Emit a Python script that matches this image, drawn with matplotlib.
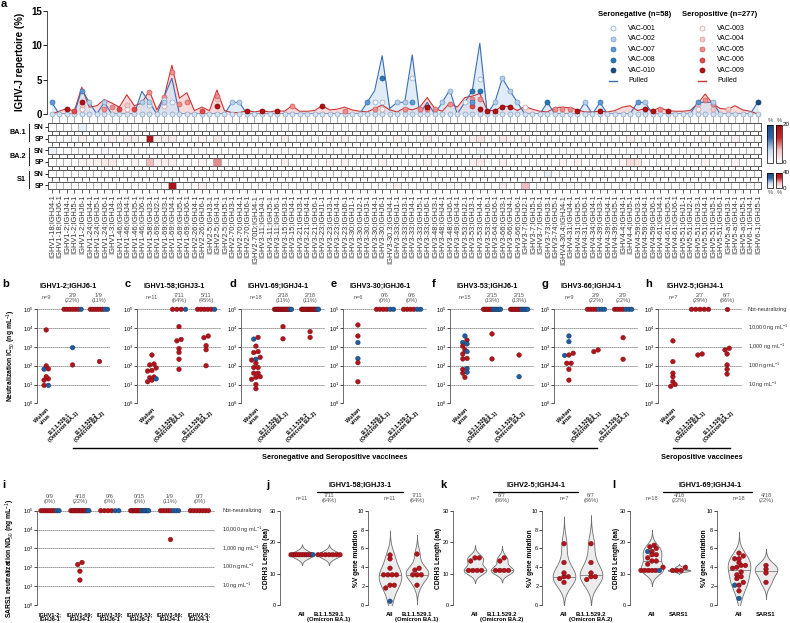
import numpy as np
import matplotlib
matplotlib.use("Agg")
import matplotlib.pyplot as plt
from matplotlib.colors import LinearSegmentedColormap, Normalize
from matplotlib.cm import ScalarMappable
from matplotlib.ticker import NullLocator

plt.rcParams['font.family'] = ['Liberation Sans', 'DejaVu Sans']
plt.rcParams['mathtext.fontset'] = 'custom'
plt.rcParams['mathtext.rm'] = 'Liberation Sans'
plt.rcParams['mathtext.bf'] = 'Liberation Sans:bold'
plt.rcParams['mathtext.it'] = 'Liberation Sans:italic'
plt.rcParams['axes.linewidth'] = 0.6

nan = np.nan

# ---------------- panel a data ----------------
V_J = [
 "IGHV1-18;IGHJ4-1","IGHV1-18;IGHJ6-1","IGHV1-2;IGHJ4-1","IGHV1-2;IGHJ5-1","IGHV1-2;IGHJ6-1",
 "IGHV1-24;IGHJ4-1","IGHV1-24;IGHJ5-1","IGHV1-24;IGHJ6-1","IGHV1-3;IGHJ4-1","IGHV1-46;IGHJ3-1",
 "IGHV1-46;IGHJ4-1","IGHV1-46;IGHJ5-1","IGHV1-46;IGHJ6-1","IGHV1-58;IGHJ3-1","IGHV1-69;IGHJ2-1",
 "IGHV1-69;IGHJ3-1","IGHV1-69;IGHJ4-1","IGHV1-69;IGHJ5-1","IGHV1-69;IGHJ6-1","IGHV2-26;IGHJ4-1",
 "IGHV2-26;IGHJ6-1","IGHV2-5;IGHJ3-1","IGHV2-5;IGHJ4-1","IGHV2-5;IGHJ5-1","IGHV2-70;IGHJ3-1",
 "IGHV2-70;IGHJ4-1","IGHV2-70;IGHJ6-1","IGHV2-70D;IGHJ4-1","IGHV3-11;IGHJ4-1","IGHV3-11;IGHJ5-1",
 "IGHV3-11;IGHJ6-1","IGHV3-15;IGHJ3-1","IGHV3-15;IGHJ4-1","IGHV3-21;IGHJ3-1","IGHV3-21;IGHJ4-1",
 "IGHV3-21;IGHJ6-1","IGHV3-23;IGHJ1-1","IGHV3-23;IGHJ3-1","IGHV3-23;IGHJ4-1","IGHV3-23;IGHJ6-1",
 "IGHV3-30;IGHJ1-1","IGHV3-30;IGHJ2-1","IGHV3-30;IGHJ3-1","IGHV3-30;IGHJ4-1","IGHV3-30;IGHJ6-1",
 "IGHV3-30.3;IGHJ4-1","IGHV3-33;IGHJ1-1","IGHV3-33;IGHJ3-1","IGHV3-33;IGHJ4-1","IGHV3-33;IGHJ5-1",
 "IGHV3-33;IGHJ6-1","IGHV3-48;IGHJ3-1","IGHV3-48;IGHJ4-1","IGHV3-48;IGHJ6-1","IGHV3-49;IGHJ4-1",
 "IGHV3-53;IGHJ2-1","IGHV3-53;IGHJ3-1","IGHV3-53;IGHJ4-1","IGHV3-53;IGHJ6-1","IGHV3-64;IGHJ6-1",
 "IGHV3-66;IGHJ3-1","IGHV3-66;IGHJ4-1","IGHV3-66;IGHJ6-1","IGHV3-7;IGHJ2-1","IGHV3-7;IGHJ5-1",
 "IGHV3-7;IGHJ6-1","IGHV3-73;IGHJ3-1","IGHV3-74;IGHJ5-1","IGHV4-30.4;IGHJ4-1","IGHV4-31;IGHJ4-1",
 "IGHV4-31;IGHJ5-1","IGHV4-31;IGHJ6-1","IGHV4-34;IGHJ4-1","IGHV4-39;IGHJ3-1","IGHV4-39;IGHJ4-1",
 "IGHV4-39;IGHJ5-1","IGHV4-4;IGHJ4-1","IGHV4-4;IGHJ5-1","IGHV4-59;IGHJ3-1","IGHV4-59;IGHJ4-1",
 "IGHV4-59;IGHJ6-1","IGHV4-61;IGHJ4-1","IGHV4-61;IGHJ5-1","IGHV4-61;IGHJ6-1","IGHV5-51;IGHJ1-1",
 "IGHV5-51;IGHJ2-1","IGHV5-51;IGHJ3-1","IGHV5-51;IGHJ4-1","IGHV5-51;IGHJ5-1","IGHV5-51;IGHJ6-1",
 "IGHV5-a;IGHJ3-1","IGHV5-a;IGHJ4-1","IGHV5-a;IGHJ5-1","IGHV6-1;IGHJ4-1","IGHV6-1;IGHJ5-1"]

PULLED_SN = [1.7,0,0,0,3.6,1.7,0,1.7,0,0,
             0,0,3.3,1.7,0,2.6,5.2,0,0,0,
             0,0,0,0,1.7,1.7,0,0,0,0,
             0,0,0,0,0,0,0,0,0,0,
             0,0,1.7,3.4,8.5,0.8,1.7,1.7,8.6,0,
             1.7,0,1.7,3.5,0,1.7,3.4,10.3,0,1.7,
             5.2,3.4,1.7,0,0,0,1.7,0,0,0,
             0,1.7,0,1.7,0,0,0,0,1.7,1.7,
             0,0,0,0,0,0,1.7,1.7,1.7,0,
             0,0,0,0,1.7]
PULLED_SP = [0,0.4,0.8,0.4,3.9,1.0,1.2,2.1,1.6,1.0,
             2.8,1.2,1.6,3.4,0.6,2.6,7.1,2.3,3.1,0.5,
             1.0,0.5,3.5,0.5,0.2,0.2,0.5,0.3,0.5,0.3,
             0.5,0.4,1.2,0.4,0.4,0.5,1.2,0.6,0.7,1.0,
             0.6,0.4,0.3,0.8,1.3,0.6,0.3,0.9,0.6,1.0,
             2.4,0.8,0.4,1.6,1.0,2.4,2.6,3.0,0.5,0.5,
             1.1,1.1,0.5,1.1,0.7,0.4,0.3,0.9,1.0,0.9,
             0.6,0.3,0.3,0.4,0.3,0.5,1.0,1.2,0.5,0.8,
             0.5,0.9,0.5,0.4,0.4,0.5,1.5,2.9,1.5,0.8,
             0.7,1.2,0.6,0.4,0]

# individual donors: {category index: % of repertoire}
VAC_001 = {13: 1.3, 15: 2.0, 16: 1.7, 43: 1.7, 44: 1.7, 48: 5.2, 55: 1.7, 57: 5.1}
VAC_002 = {5: 1.7, 7: 1.7, 12: 1.7, 13: 1.7, 15: 1.7, 24: 1.7, 25: 1.7, 46: 1.7, 47: 1.7,
           52: 1.7, 53: 3.4, 59: 1.7, 60: 5.2, 61: 3.4, 62: 1.7, 71: 1.7, 79: 1.7, 88: 1.7}
VAC_007 = {0: 1.7, 4: 3.3, 42: 1.7, 48: 1.7, 56: 1.7, 73: 1.7, 78: 1.7, 86: 1.7}
VAC_008 = {44: 5.2, 56: 3.4, 57: 3.4, 66: 1.7}
VAC_010 = {94: 1.7}
VAC_003 = {4: 0.8, 10: 0.8, 15: 1.2, 44: 0.7, 63: 1.0, 86: 0.8}
VAC_004 = {4: 1.3, 10: 1.3, 22: 2.2, 86: 1.4, 88: 0.8, 90: 0.8}
VAC_005 = {7: 0.8, 8: 1.0, 13: 3.2, 15: 2.5, 16: 6.1, 17: 1.4, 18: 1.8, 22: 2.6, 32: 1.1,
           39: 0.5, 43: 0.8, 47: 0.8, 49: 0.8, 50: 0.8, 51: 0.8, 53: 1.4, 56: 2.2, 57: 2.2,
           67: 0.8, 68: 0.8, 69: 0.8, 81: 0.8, 87: 2.0, 88: 1.4}
VAC_006 = {3: 0.4, 9: 0.8, 11: 0.8, 20: 0.4, 56: 1.2}
VAC_009 = {2: 0.7, 4: 1.8, 22: 1.1, 26: 0.4, 28: 0.4, 30: 0.4, 36: 1.1, 50: 1.0, 57: 0.8,
           58: 0.4, 59: 0.4, 60: 1.0, 61: 1.0, 70: 0.4, 73: 0.4, 79: 0.7, 80: 0.4, 82: 0.4}

# heatmaps: {category index: %}
BA1_SN = {4: 2.5}
BA1_SP = {4: 2, 8: 2, 10: 2, 11: 2, 13: 18, 14: 1.5, 15: 2, 16: 2.5, 20: 1.5, 22: 2.5, 31: 2,
          37: 1.5, 39: 1.5, 46: 1.5, 50: 2, 56: 2, 57: 3, 60: 2.5, 61: 1.5, 63: 1.5, 77: 2,
          87: 1.5, 91: 1.5}
BA2_SN = {0: 2, 7: 1.5, 57: 2, 78: 1.5}
BA2_SP = {4: 1.5, 5: 1.5, 6: 1.5, 7: 2.5, 8: 2.5, 11: 1.5, 13: 7, 14: 2, 15: 2, 16: 2, 20: 1.5,
          22: 9, 31: 2, 37: 1.5, 39: 1.5, 44: 1.5, 50: 1.5, 56: 2, 57: 2.5, 60: 2, 68: 1.5,
          70: 1.5, 76: 1.5, 77: 4, 78: 3, 87: 1.5, 91: 1.5}
S1_SN = {66: 7}
S1_SP = {16: 38, 20: 4, 46: 4, 60: 4, 63: 14}

# ---------------- panels b-h data (IC50 ng/mL; nan = not neutralizing) ----------------
b_group = ['SP','SP','SN','SP','SP','SP','SP','SP','SN']
b_wuhan = [8000, 98, 65, 68, 20, 26, 17, 9, 9]
b_ba1 = [nan, 110, 910, nan, nan, nan, nan, nan, nan]
b_ba2 = [nan, nan, nan, 178, nan, nan, nan, nan, nan]
b_sars = [nan, nan, nan, nan, nan, nan, nan, nan, nan]

c_group = ['SP','SP','SP','SP','SP','SP','SP','SP','SP','SN','SP']
c_wuhan = [370, 123, 110, 76, 52, 56, 25, 23, 17, 20, 14]
c_ba1 = [12000, 2100, 2500, 810, 510, 220, 64, nan, nan, nan, nan]
c_ba2 = [3800, 3100, 1170, 710, 100, nan, nan, nan, nan, nan, nan]

d_group = ['SP','SN','SP','SP','SP','SP','SP','SN','SP','SP','SP','SP','SP','SP','SP','SP','SP','SP']
d_wuhan = [3200, 2600, 1100, 200, 500, 560, 280, 220, 80, 80, 135, 40, 24, 26, 40, 19, 10, 6]
d_ba1 = [12000, nan, 2700, nan, nan, nan, nan, nan, nan, nan, nan, nan, nan, nan, nan, nan, nan, nan]
d_ba2 = [nan, nan, nan, 6500, 3200, nan, nan, nan, nan, nan, nan, nan, nan, nan, nan, nan, nan, nan]
d_sars = [nan, nan, nan, nan, 180, 140, nan, nan, 62, nan, nan, 21, nan, nan, nan, nan, nan, nan]

e_group = ['SP','SP','SN','SN','SP','SP']
e_wuhan = [14700, 3800, 1700, 240, 145, 14]
e_ba1 = [nan, nan, nan, nan, nan, nan]
e_ba2 = [nan, nan, nan, nan, nan, nan]
e_sars = [nan, nan, nan, nan, nan, nan]

f_group = ['SP','SN','SN','SN','SP','SP','SN','SP','SP','SP','SN','SN','SP','SP','SP']
f_wuhan = [2300, 3800, 1700, 1450, 1100, 690, 560, 420, 245, 230, 72, 45, 64, 40, 24]
f_ba1 = [4900, nan, nan, nan, 230, nan, nan, nan, nan, nan, nan, nan, nan, nan, nan]
f_ba2 = [nan, nan, nan, nan, nan, 370, nan, nan, nan, nan, 26, nan, nan, nan, nan]
f_sars = [nan, nan, nan, nan, nan, nan, nan, nan, nan, nan, nan, nan, nan, nan, nan]

g_group = ['SN','SN','SP','SN','SP','SP','SP','SP','SP']
g_wuhan = [3800, 1900, 460, 350, 370, 135, 135, 64, 17]
g_ba1 = [nan, nan, 560, nan, 690, nan, nan, nan, nan]
g_ba2 = [nan, nan, nan, nan, nan, 3100, 220, nan, nan]
g_sars = [nan, nan, nan, nan, nan, nan, nan, 3000, nan]

h_group = ['SP','SP','SP','SP','SP','SP','SP']
h_wuhan = [2100, 165, 26, 14, 8, 40, 10]
h_ba1 = [370, 420, nan, nan, nan, nan, nan]
h_ba2 = [690, 850, 420, 110, 64, 36, nan]
h_sars = [nan, nan, nan, nan, nan, nan, nan]

IC_CATS = ["Wuhan\nvirus", "B.1.1.529.1\n(Omicron BA.1)", "B.1.1.529.2\n(Omicron BA.2)"]
I_CATS = ["IGHV1-2;\nIGHJ6-1", "IGHV1-69;\nIGHJ4-1", "IGHV3-30;\nIGHJ6-1",
          "IGHV3-53;\nIGHJ6-1", "IGHV3-66;\nIGHJ4-1", "IGHV2-5;\nIGHJ4-1"]
RIGHT_LABELS = ["Not-neutralizing", "10,000 ng mL$^{-1}$", "1,000 ng mL$^{-1}$",
                "100 ng mL$^{-1}$", "10 ng mL$^{-1}$"]

# ---------------- panels j-l data ----------------
j_group = ['SP','SP','SP','SP','SP','SP','SP','SP','SP','SP','SN']
j_cdr3_all = [16, 16, 16, 16, 16, 16, 16, 16, 16, 16, 16]
j_mut_all = [4.9, 5.3, 3.9, 3.2, 3.2, 3.2, 3.2, 2.1, 1.8, 2.1, 0.4]
j_cdr3_sub = [16, 16, 16, 16, 16, 16, 16]
j_mut_sub = [5.4, 3.9, 3.7, 3.2, 3.2, 3.2, 2.1]
k_group = ['SP','SP','SP','SP','SP','SP','SP']
k_cdr3_all = [15, 14, 15, 11, 11, 11, 11]
k_mut_all = [6.5, 4.5, 3.0, 3.0, 2.4, 3.4, 2.8]
k_cdr3_sub = [14, 15, 11, 11, 11, 11]
k_mut_sub = [6.5, 4.5, 3.0, 2.7, 3.4, 3.0]
l_group = ['SP','SP','SP','SN','SP','SP','SP','SP','SP','SP','SP','SP','SP','SP','SP','SP','SP','SN']
l_cdr3_all = [19, 18.5, 18, 17, 17, 16, 16, 15, 14, 14, 13, 12, 11, 11, 11, 11, 11, 11]
l_mut_all = [5.5, 4.9, 4.2, 2.1, 5.2, 4.9, 4.5, 4.2, 4.0, 3.9, 3.5, 3.2, 3.0, 2.8, 2.4, 2.1, 1.5, 0.7]
l_cdr3_sub = [12, 11, 11, 11]
l_mut_sub = [4.2, 3.8, 3.4, 2.4]

# ---------------- styling ----------------
RED, RED_E = '#b3141c', '#6e0a0e'
BLUE, BLUE_E = '#1f5c9e', '#0f3763'
DONOR_STYLE = {
    'VAC-001': ('#f4f7fb', '#8fa9c8'), 'VAC-002': ('#b7cfe9', '#7d9fc6'),
    'VAC-007': ('#5e98d6', '#3e74b0'), 'VAC-008': ('#2778b8', '#1c5a8c'),
    'VAC-010': ('#174a86', '#0f3560'),
    'VAC-003': ('#fbf3f3', '#c9a0a0'), 'VAC-004': ('#f6caca', '#d99a9a'),
    'VAC-005': ('#ef8d8d', '#d06060'), 'VAC-006': ('#e04a4a', '#b83030'),
    'VAC-009': ('#b50f0f', '#800000')}
DONORS_SN = [('VAC-001', VAC_001), ('VAC-002', VAC_002), ('VAC-007', VAC_007),
             ('VAC-008', VAC_008), ('VAC-010', VAC_010)]
DONORS_SP = [('VAC-003', VAC_003), ('VAC-004', VAC_004), ('VAC-005', VAC_005),
             ('VAC-006', VAC_006), ('VAC-009', VAC_009)]

W, H = 790, 623
fig = plt.figure(figsize=(W / 100, H / 100), dpi=100)


def axpx(x0, y0, x1, y1):
    return fig.add_axes([x0 / W, 1 - y1 / H, (x1 - x0) / W, (y1 - y0) / H])


ov = fig.add_axes([0, 0, 1, 1])
ov.set_xlim(0, W)
ov.set_ylim(H, 0)
ov.axis('off')
ov.set_zorder(20)
ov.patch.set_alpha(0)


def otext(x, y, s, **kw):
    kw.setdefault('ha', 'center')
    kw.setdefault('va', 'center')
    ov.text(x, y, s, **kw)


# ================= panel a =================
xcat = np.arange(len(V_J))
axa = axpx(47.2, 11, 762.2, 114)
axa.set_xlim(-0.6, len(V_J) - 0.4)
axa.set_ylim(0, 15)
axa.fill_between(xcat, PULLED_SP, color='#f7cdcd', alpha=0.75, lw=0, zorder=1)
axa.fill_between(xcat, PULLED_SN, color='#d3e4f5', alpha=0.7, lw=0, zorder=2)
axa.plot(xcat, PULLED_SP, color='#cc3333', lw=0.8, zorder=3)
axa.plot(xcat, PULLED_SN, color='#3b6db3', lw=0.8, zorder=3)
axa.scatter(xcat, np.zeros(len(xcat)), s=13, facecolor='#d4e3f3', edgecolor='#8aa6c6',
            lw=0.5, zorder=4, clip_on=False)
for zo, (name, d) in enumerate(DONORS_SP + DONORS_SN):
    fc, ec = DONOR_STYLE[name]
    xs = list(d.keys())
    ys = list(d.values())
    axa.scatter(xs, ys, s=13, facecolor=fc, edgecolor=ec, lw=0.5, zorder=5 + zo, clip_on=False)
for s in ['top', 'right', 'bottom']:
    axa.spines[s].set_visible(False)
axa.spines['left'].set_color('#333333')
axa.set_yticks([0, 5, 10, 15])
axa.tick_params(axis='y', labelsize=7, length=3, width=0.6, pad=1)
for t in axa.get_yticklabels():
    t.set_fontweight('bold')
axa.set_xticks(xcat)
axa.set_xticklabels([])
axa.tick_params(axis='x', length=6.5, width=0.6, color='#9a9a9a')
otext(20, 62, 'IGHV-J repertoire (%)', rotation=90, fontsize=7, fontweight='bold')

cmap_b = LinearSegmentedColormap.from_list('b', ['#ffffff', '#c9dbef', '#2f66a6', '#1b4884'])
cmap_r = LinearSegmentedColormap.from_list('r', ['#ffffff', '#f3c4c4', '#c62828', '#a50f15'])
HEAT_ROWS = [('BA.1', 'SN', BA1_SN), ('BA.1', 'SP', BA1_SP), ('BA.2', 'SN', BA2_SN),
             ('BA.2', 'SP', BA2_SP), ('S1', 'SN', S1_SN), ('S1', 'SP', S1_SP)]
row_tops = [123.3, 135, 146.7, 158.3, 170, 181.7]
RH = 7.3
for k, ((grp, lab, d), top) in enumerate(zip(HEAT_ROWS, row_tops)):
    ax = axpx(48, top, 761.4, top + RH)
    vals = np.zeros(len(V_J))
    for i, v in d.items():
        vals[i] = v
    vmax = 40 if grp == 'S1' else 20
    cm = cmap_b if lab == 'SN' else cmap_r
    ax.pcolormesh(np.arange(len(V_J) + 1) - 0.5, [0, 1], vals[None, :], cmap=cm,
                  vmin=0, vmax=vmax, edgecolors='#b0b0b0', linewidth=0.5)
    ax.set_xlim(-0.5, len(V_J) - 0.5)
    ax.set_ylim(0, 1)
    for s in ax.spines.values():
        s.set_color('#444444')
        s.set_linewidth(0.6)
    ax.set_xticks(xcat)
    ax.tick_params(axis='x', length=3, width=0.6, color='#444444')
    ax.set_yticks([0.5])
    ax.set_yticklabels([lab], fontsize=5, fontweight='bold')
    ax.tick_params(axis='y', length=2.5, width=0.6, pad=0.5)
    if k == len(HEAT_ROWS) - 1:
        ax.set_xticklabels(V_J, rotation=90, fontsize=5.4, color='#333333')
        ax.tick_params(axis='x', pad=1)
    else:
        ax.set_xticklabels([])
for gi, grp in enumerate(['BA.1', 'BA.2', 'S1']):
    t0 = row_tops[2 * gi]
    t1 = row_tops[2 * gi + 1] + RH
    otext(26, (t0 + t1) / 2, grp, ha='right', fontsize=5.2, fontweight='bold')
    ov.plot([29, 29], [t0 + 1, t1 - 1], color='#222222', lw=0.7)

# colorbars
for (y0, y1, vmax, pct_y) in [(125, 163, 20, 121), (173, 188, 40, 193)]:
    cb_b = axpx(767, y0, 773, y1)
    cb_r = axpx(776, y0, 782, y1)
    for cax, cm in [(cb_b, cmap_b), (cb_r, cmap_r)]:
        cb = fig.colorbar(ScalarMappable(Normalize(0, vmax), cm), cax=cax)
        cb.set_ticks([])
        cb.outline.set_linewidth(0.5)
    otext(770, pct_y, '%', fontsize=4.2, color='#444444')
    otext(779, pct_y, '%', fontsize=4.2, color='#444444')
    otext(783, y0, str(vmax), ha='left', fontsize=4.5)
    otext(783, y1, '0', ha='left', fontsize=4.5)

# legend (manual)
leg_rows = [28, 38.6, 49.2, 59.8, 70.4, 81]
for (title, tx, mx, donors, lc) in [('Seronegative (n=58)', 635, 613, DONORS_SN, '#3b6db3'),
                                    ('Seropositive (n=277)', 720, 702, DONORS_SP, '#cc3333')]:
    otext(tx, 15, title, fontsize=5.5, fontweight='bold')
    for (name, _), yy in zip(donors, leg_rows):
        fc, ec = DONOR_STYLE[name]
        ov.scatter([mx], [yy], s=13, facecolor=fc, edgecolor=ec, lw=0.5)
        otext(mx + 15, yy, name, ha='left', fontsize=5)
    ov.plot([mx - 4, mx + 4], [leg_rows[-1]] * 2, color=lc, lw=1.0)
    otext(mx + 15, leg_rows[-1], 'Pulled', ha='left', fontsize=5)

# ================= helpers for scatter =================
DOT = 4.3
S_PT = 11
DEC_PX = 18.8


def spread_offsets(ypx, d, wmax, tol=3.2):
    ypx = np.asarray(ypx, float)
    order = np.argsort(ypx, kind='stable')
    offs = np.zeros(len(ypx))
    groups, cur = [], []
    for idx in order:
        if cur and ypx[idx] - ypx[cur[0]] > tol:
            groups.append(cur)
            cur = []
        cur.append(idx)
    if cur:
        groups.append(cur)
    for g in groups:
        n = len(g)
        s = d if n < 2 else min(d, wmax / (n - 1))
        for kk, idx in enumerate(g):
            offs[idx] = (kk - (n - 1) / 2) * s
    return offs


def colors_of(groups):
    fc = [RED if g == 'SP' else BLUE for g in groups]
    ec = [RED_E if g == 'SP' else BLUE_E for g in groups]
    return fc, ec


def log_scatter(ax, ci, vals, groups, pxu, wmax_na=17):
    vals = np.asarray(vals, float)
    grp = np.asarray(groups)
    ok = ~np.isnan(vals)
    if ok.any():
        offs = spread_offsets(np.log10(vals[ok]) * DEC_PX, DOT, 16)
        fc, ec = colors_of(grp[ok])
        ax.scatter(ci + offs / pxu, vals[ok], s=S_PT, c=fc, edgecolors=ec, lw=0.3,
                   zorder=4, clip_on=False)
    na = [i for i in range(len(vals)) if not ok[i]]
    if na:
        na = sorted(na, key=lambda i: grp[i] == 'SN')
        n = len(na)
        s = DOT if n < 2 else min(DOT, wmax_na / (n - 1))
        offs = (np.arange(n) - (n - 1) / 2) * s
        fc, ec = colors_of(grp[na])
        ax.scatter(ci + offs / pxu, np.full(n, 1e5), s=S_PT, c=fc, edgecolors=ec, lw=0.3,
                   zorder=4, clip_on=False)


def frac_label(vals):
    v = np.asarray(vals, float)
    k = int((~np.isnan(v)).sum())
    n = len(v)
    return '%d/%d\n(%d%%)' % (k, n, int(round(100.0 * k / n)))


def style_log_axis(ax):
    ax.set_yscale('log')
    ax.set_ylim(1, 1e5)
    for s in ['top', 'right', 'bottom']:
        ax.spines[s].set_visible(False)
    ax.spines['left'].set_color('#555555')
    ax.set_yticks([10.0 ** k for k in range(6)])
    ax.set_yticklabels([r'$10^{%d}$' % k for k in range(6)])
    ax.yaxis.set_minor_locator(NullLocator())
    ax.tick_params(axis='y', labelsize=4, length=2, width=0.5, pad=1)
    for k in range(1, 6):
        ax.axhline(10.0 ** k, color='#222222', lw=0.6, ls=(0, (1, 1.4)), zorder=1)


# ================= panels b-h =================
IC_PANELS = [
    ('b', 'IGHV1-2;IGHJ6-1', b_group, b_wuhan, b_ba1, b_ba2, 37, 110, -0.35, 2.42, 2),
    ('c', 'IGHV1-58;IGHJ3-1', c_group, c_wuhan, c_ba1, c_ba2, 137, 221, -0.55, 2.55, 125),
    ('d', 'IGHV1-69;IGHJ4-1', d_group, d_wuhan, d_ba1, d_ba2, 241, 325, -0.55, 2.55, 229),
    ('e', 'IGHV3-30;IGHJ6-1', e_group, e_wuhan, e_ba1, e_ba2, 343, 427, -0.55, 2.55, 331),
    ('f', 'IGHV3-53;IGHJ6-1', f_group, f_wuhan, f_ba1, f_ba2, 450, 534, -0.55, 2.55, 432),
    ('g', 'IGHV3-66;IGHJ4-1', g_group, g_wuhan, g_ba1, g_ba2, 554, 638, -0.55, 2.55, 541),
    ('h', 'IGHV2-5;IGHJ4-1', h_group, h_wuhan, h_ba1, h_ba2, 658, 742, -0.55, 2.55, 645),
]
for (let, title, grp, wu, b1, b2, x0, x1, xlo, xhi, lx) in IC_PANELS:
    ax = axpx(x0, 309.3, x1, 403.3)
    style_log_axis(ax)
    ax.set_xlim(xlo, xhi)
    pxu = (x1 - x0) / (xhi - xlo)
    for ci, vals in enumerate([wu, b1, b2]):
        log_scatter(ax, ci, vals, grp, pxu)
    labs = ['n=%d' % len(wu), frac_label(b1), frac_label(b2)]
    for ci, lab in enumerate(labs):
        ax.annotate(lab, xy=(ci, 1), xycoords=('data', 'axes fraction'), xytext=(0, 8.3),
                    textcoords='offset points', ha='center', va='center', fontsize=4.1,
                    color='#555555', linespacing=0.95, annotation_clip=False)
    ax.set_xticks([0, 1, 2])
    ax.set_xticklabels(IC_CATS, rotation=45, ha='right', rotation_mode='anchor',
                       fontsize=4, fontweight='bold', multialignment='center', linespacing=1.0)
    ax.tick_params(axis='x', length=0, pad=3)
    otext((x0 + x1) / 2 - 5, 286, title, fontsize=5.1, fontweight='bold')
    otext(lx, 279, let, ha='left', va='top', fontsize=8, fontweight='bold')
    if let == 'h':
        for k, lab in zip([5, 4, 3, 2, 1], RIGHT_LABELS):
            ax.text(xhi + 6 / pxu, 10.0 ** k, lab, fontsize=4.1, ha='left', va='center',
                    color='#333333', clip_on=False)
otext(11, 356, r'Neutralization IC$_{50}$ (ng mL$^{-1}$)', rotation=90, fontsize=4.9,
      fontweight='bold')
ov.plot([73, 597], [448, 448], color='black', lw=1.0)
ov.plot([673, 730], [448, 448], color='black', lw=1.0)
otext(335, 457.5, 'Seronegative and Seropositive vaccinees', fontsize=5.3, fontweight='bold')
otext(702, 457.5, 'Seropositive vaccinees', fontsize=5.3, fontweight='bold')

# ================= panel i =================
I_SETS = [(b_sars, b_group), (d_sars, d_group), (e_sars, e_group),
          (f_sars, f_group), (g_sars, g_group), (h_sars, h_group)]
axi = axpx(37, 510.7, 215, 605)
style_log_axis(axi)
ixlo, ixhi = -0.435, 5.52
axi.set_xlim(ixlo, ixhi)
ipxu = (215 - 37) / (ixhi - ixlo)
for ci, (vals, grp) in enumerate(I_SETS):
    log_scatter(axi, ci, vals, grp, ipxu, wmax_na=18)
    axi.annotate(frac_label(vals), xy=(ci, 1), xycoords=('data', 'axes fraction'),
                 xytext=(0, 8.6), textcoords='offset points', ha='center', va='center',
                 fontsize=4.1, color='#555555', linespacing=0.95, annotation_clip=False)
axi.set_xticks(range(len(I_CATS)))
axi.set_xticklabels(I_CATS, fontsize=4, fontweight='bold', linespacing=1.0)
axi.tick_params(axis='x', length=0, pad=5)
for k, lab in zip([5, 4, 3, 2, 1], RIGHT_LABELS):
    axi.text(ixhi + 7 / ipxu, 10.0 ** k, lab, fontsize=4.1, ha='left', va='center',
             color='#333333', clip_on=False)
otext(10, 558, r'SARS1 neutralization ND$_{50}$ (ng mL$^{-1}$)', rotation=90, fontsize=4.9,
      fontweight='bold')
otext(2, 480, 'i', ha='left', va='top', fontsize=8, fontweight='bold')


# ================= panels j-l =================
def violin_axis(c0, ymax, yticks, ylabel, ylab_x):
    x0 = c0 - 0.8 * 27
    x1 = c0 + 1.7 * 27
    ax = axpx(x0, 510.7, x1, 605)
    ax.set_xlim(-0.8, 1.7)
    ax.set_ylim(0, ymax)
    for s in ['top', 'right', 'bottom']:
        ax.spines[s].set_visible(False)
    ax.spines['left'].set_color('#555555')
    ax.set_yticks(yticks)
    ax.tick_params(axis='y', labelsize=4, length=2, width=0.5, pad=1)
    otext(ylab_x, 558, ylabel, rotation=90, fontsize=4.8, fontweight='bold')
    return ax


def draw_violin(ax, ci, vals, groups, ypu, minbw):
    v = np.asarray(vals, float)
    sd = v.std(ddof=1) if len(v) > 1 else 0.0
    bw = sd * len(v) ** (-0.2) if sd > 0 else minbw
    g = np.linspace(v.min() - 3 * bw, v.max() + 3 * bw, 300)
    dens = np.exp(-0.5 * ((g[:, None] - v[None, :]) / bw) ** 2).sum(1)
    hw = dens / dens.max() * 0.42
    ax.fill_betweenx(g, ci - hw, ci + hw, facecolor='#ececec', edgecolor='#6f6f6f',
                     lw=0.6, zorder=1)
    med = np.median(v)
    hm = np.interp(med, g, hw)
    ax.plot([ci - hm, ci + hm], [med, med], color='#808080', lw=0.6, zorder=2)
    offs = spread_offsets(v * ypu, DOT, 22)
    fc, ec = colors_of(groups)
    ax.scatter(ci + offs / 27.0, v, s=S_PT, c=fc, edgecolors=ec, lw=0.3, zorder=4,
               clip_on=False)


VIOLIN_PANELS = [
    ('j', 'IGHV1-58;IGHJ3-1', 'B.1.1.529.1\n(Omicron BA.1)', 302, 390,
     (j_cdr3_all, j_mut_all, j_group), (j_cdr3_sub, j_mut_sub), 266, 266, 357,
     (317, 403), 360),
    ('k', 'IGHV2-5;IGHJ4-1', 'B.1.1.529.2\n(Omicron BA.2)', 475, 564,
     (k_cdr3_all, k_mut_all, k_group), (k_cdr3_sub, k_mut_sub), 440, 439, 531,
     (493, 578), 536),
    ('l', 'IGHV1-69;IGHJ4-1', 'SARS1', 652, 739,
     (l_cdr3_all, l_mut_all, l_group), (l_cdr3_sub, l_mut_sub), 612, 616, 704,
     (663, 752), 710),
]
for (let, title, sublab, c_cd, c_mu, alld, subd, lx, ylx1, ylx2, (lx0, lx1), tx) in VIOLIN_PANELS:
    cd_all, mu_all, grp_all = alld
    cd_sub, mu_sub = subd
    grp_sub = ['SP'] * len(cd_sub)
    n_all = len(cd_all)
    n_sub = len(cd_sub)
    toplab = ['n=%d' % n_all, '%d/%d\n(%d%%)' % (n_sub, n_all, int(round(100.0 * n_sub / n_all)))]
    for (c0, ymax, yt, ylab, ylx, idx, ypu, minbw) in [
            (c_cd, 30, [0, 10, 20, 30], 'CDRH3 Length (aa)', ylx1, 0, 94.3 / 30, 1.1),
            (c_mu, 10, [0, 2, 4, 6, 8, 10], '%V gene mutation', ylx2, 1, 9.43, 0.5)]:
        ax = violin_axis(c0, ymax, yt, ylab, ylx)
        draw_violin(ax, 0, [cd_all, mu_all][idx], grp_all, ypu, minbw)
        draw_violin(ax, 1, [cd_sub, mu_sub][idx], grp_sub, ypu, minbw)
        ax.set_xticks([0, 1])
        ax.set_xticklabels(['All', sublab], fontsize=4.2, fontweight='bold', linespacing=1.0)
        ax.tick_params(axis='x', length=0, pad=5)
        for ci, lab in enumerate(toplab):
            ax.annotate(lab, xy=(ci, 1), xycoords=('data', 'axes fraction'), xytext=(0, 9.0),
                        textcoords='offset points', ha='center', va='center', fontsize=4.1,
                        color='#555555', linespacing=0.95, annotation_clip=False)
    ov.plot([lx0, lx1], [492, 492], color='black', lw=0.9)
    otext(tx, 485, title, fontsize=5.3, fontweight='bold')
    otext(lx, 480, let, ha='left', va='top', fontsize=8, fontweight='bold')

otext(1, -1, 'a', ha='left', va='top', fontsize=8, fontweight='bold')

fig.savefig('out.png', dpi=100)
